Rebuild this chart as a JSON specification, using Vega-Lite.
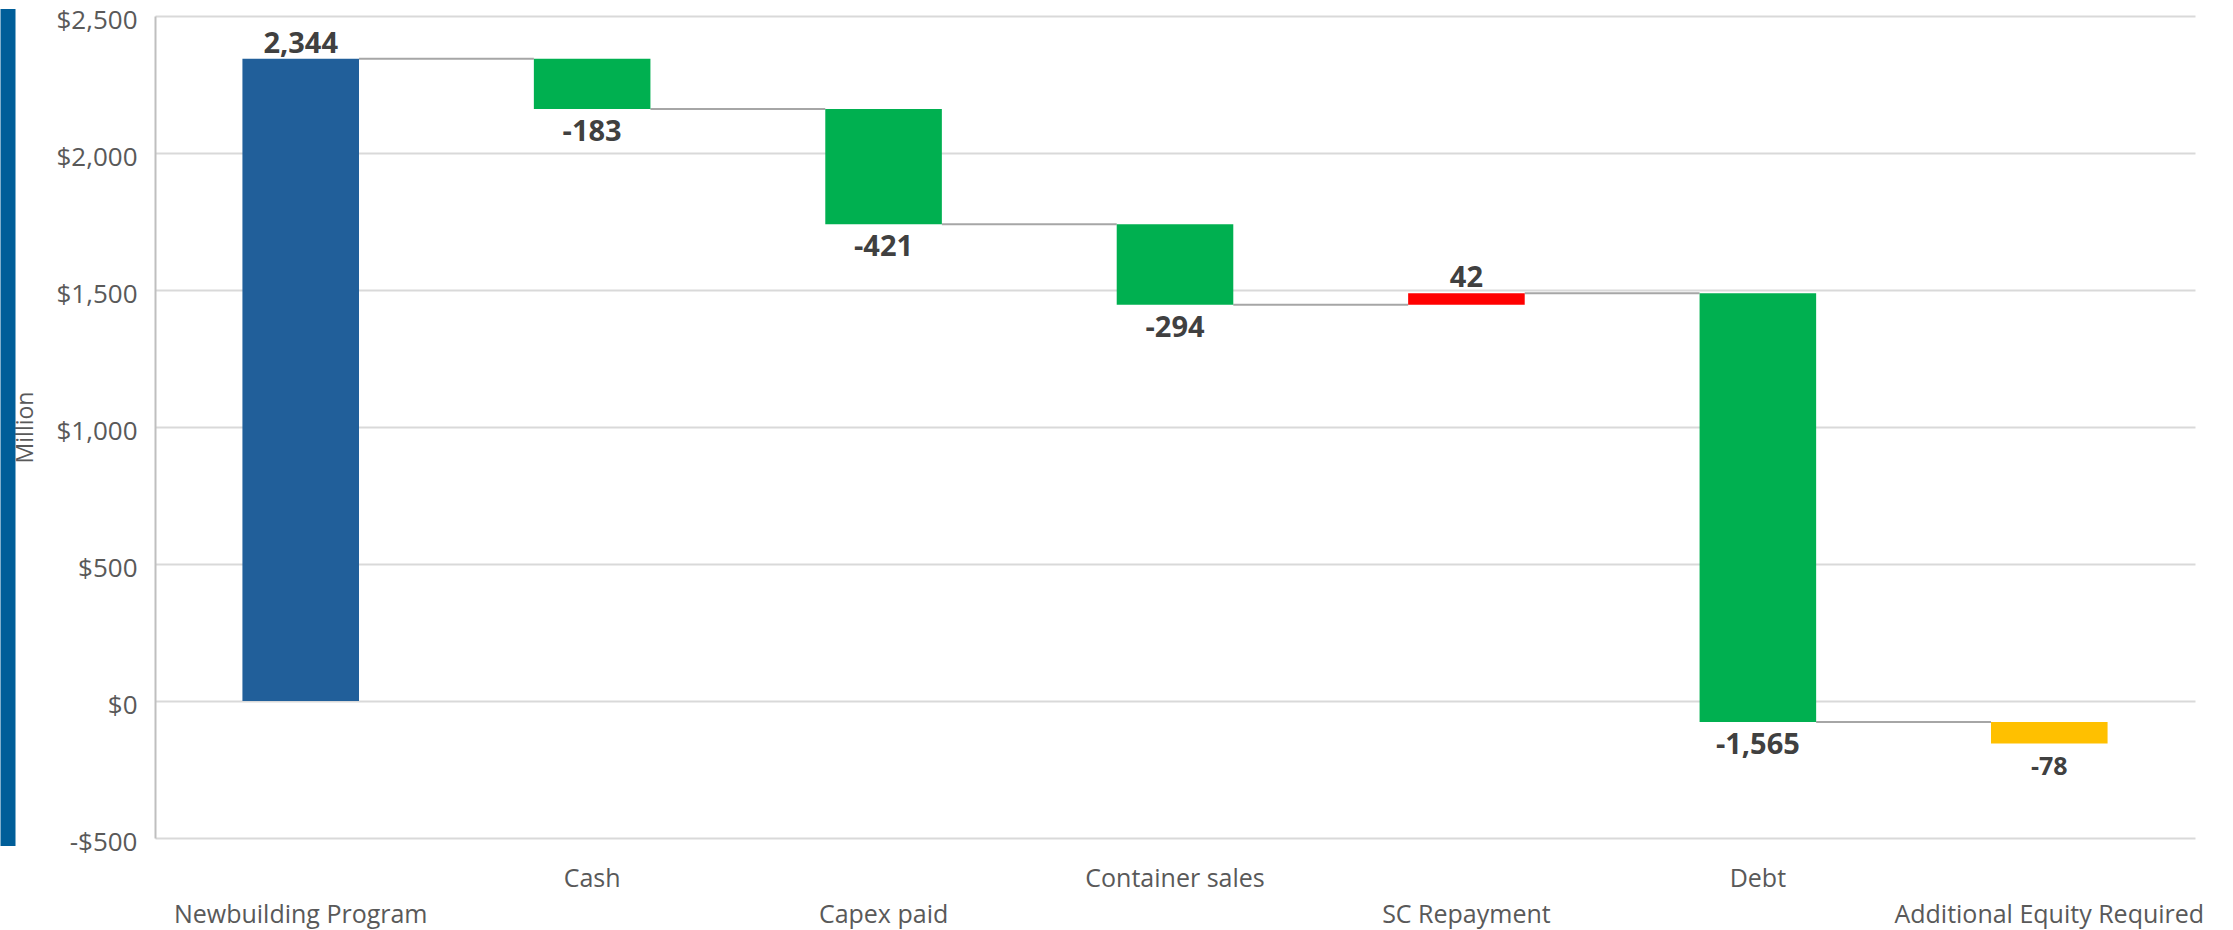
{
  "$schema": "https://vega.github.io/schema/vega-lite/v6.json",
  "width": 2040,
  "height": 822,
  "autosize": {"type": "none"},
  "padding": {"left": 155, "top": 16, "right": 38, "bottom": 92},
  "background": "white",
  "config": {
    "locale": {"number": {"decimal": ".", "thousands": ",", "grouping": [3], "currency": ["$", ""], "minus": "-"}},
    "font": "Open Sans",
    "view": {"stroke": null}
  },
  "data": {
    "values": [
      {"cat": "Newbuilding Program", "kind": "Program", "start": 0, "end": 2344, "value": 2344, "next": "Cash"},
      {"cat": "Cash", "kind": "Decrease", "start": 2344, "end": 2161, "value": -183, "next": "Capex paid"},
      {"cat": "Capex paid", "kind": "Decrease", "start": 2161, "end": 1740, "value": -421, "next": "Container sales"},
      {"cat": "Container sales", "kind": "Decrease", "start": 1740, "end": 1446, "value": -294, "next": "SC Repayment"},
      {"cat": "SC Repayment", "kind": "Increase", "start": 1446, "end": 1488, "value": 42, "next": "Debt"},
      {"cat": "Debt", "kind": "Decrease", "start": 1488, "end": -77, "value": -1565, "next": "Additional Equity Required"},
      {"cat": "Additional Equity Required", "kind": "Equity", "start": -77, "end": -155, "value": -78, "next": null}
    ]
  },
  "encoding": {
    "x": {
      "field": "cat", "type": "nominal", "sort": null, "title": null,
      "scale": {"domain": ["Newbuilding Program", "Cash", "Capex paid", "Container sales", "SC Repayment", "Debt", "Additional Equity Required"], "paddingInner": 0.6, "paddingOuter": 0.3},
      "axis": {
        "orient": "bottom",
        "title": null, "labelAngle": 0, "labelFontSize": 25, "labelColor": "#595959",
        "labelPadding": 28, "labelBaseline": "top", "labelLineHeight": 36, "labelLimit": 400,
        "ticks": false, "domain": false, "grid": false,
        "labelExpr": "round(datum.index * 6) % 2 == 0 ? ['', datum.label] : datum.label"
      }
    }
  },
  "layer": [
    {
      "transform": [{"filter": "datum.next != null"}],
      "mark": {"type": "rule", "color": "#A6A6A6", "strokeWidth": 2},
      "encoding": {
        "x": {
          "field": "cat", "type": "nominal", "sort": null, "title": null, "bandPosition": 1,
          "scale": {"domain": ["Newbuilding Program", "Cash", "Capex paid", "Container sales", "SC Repayment", "Debt", "Additional Equity Required"], "paddingInner": 0.6, "paddingOuter": 0.3},
          "axis": {
            "orient": "bottom",
            "title": null, "labelAngle": 0, "labelFontSize": 25, "labelColor": "#595959",
            "labelPadding": 28, "labelBaseline": "top", "labelLineHeight": 36, "labelLimit": 400,
            "ticks": false, "domain": false, "grid": false,
            "labelExpr": "round(datum.index * 6) % 2 == 0 ? ['', datum.label] : datum.label"
          }
        },
        "x2": {"field": "next", "bandPosition": 0},
        "y": {"field": "end", "type": "quantitative", "axis": null}
      }
    },
    {
      "mark": {"type": "bar"},
      "encoding": {
        "y": {
          "field": "start", "type": "quantitative",
          "scale": {"domain": [-500, 2500], "nice": false, "zero": false},
          "axis": {
            "title": "Million", "values": [-500, 0, 500, 1000, 1500, 2000, 2500], "format": "$,.0f",
            "labelFontSize": 26, "labelColor": "#595959", "labelPadding": 18, "labelBaseline": "alphabetic", "labelOffset": 12,
            "ticks": false, "tickSize": 0,
            "domainColor": "#BFBFBF", "domainWidth": 2,
            "grid": true, "gridColor": "#D9D9D9", "gridWidth": 2,
            "titleFontSize": 23, "titleFontWeight": "normal", "titleColor": "#595959",
            "titleAngle": -90, "titleX": -123, "titleY": 411, "titleAlign": "center", "titleBaseline": "alphabetic"
          }
        },
        "y2": {"field": "end"},
        "color": {
          "field": "kind", "type": "nominal",
          "scale": {"domain": ["Program", "Decrease", "Increase", "Equity"], "range": ["#215F9A", "#00B050", "#FF0000", "#FFC000"]},
          "legend": null
        }
      }
    },
    {
      "transform": [{"filter": "datum.value >= 0"}],
      "mark": {"type": "text", "fontWeight": "bold", "color": "#404040", "baseline": "alphabetic", "dy": -6},
      "encoding": {
        "y": {"field": "end", "type": "quantitative",
              "axis": {"orient": "left", "offset": 147.5, "domainColor": "#005E99", "domainWidth": 15, "domainCap": "square",
                       "labels": false, "ticks": false, "grid": false, "title": null}},
        "text": {"field": "value", "type": "quantitative", "format": ","},
        "size": {"value": 29}
      }
    },
    {
      "transform": [{"filter": "datum.value < 0"}],
      "mark": {"type": "text", "fontWeight": "bold", "color": "#404040", "baseline": "alphabetic", "dy": 32},
      "encoding": {
        "y": {"field": "end", "type": "quantitative", "axis": null},
        "text": {"field": "value", "type": "quantitative", "format": ","},
        "size": {"condition": {"test": "datum.kind === 'Equity'", "value": 25}, "value": 29}
      }
    }
  ],
  "resolve": {"axis": {"y": "independent"}}
}
